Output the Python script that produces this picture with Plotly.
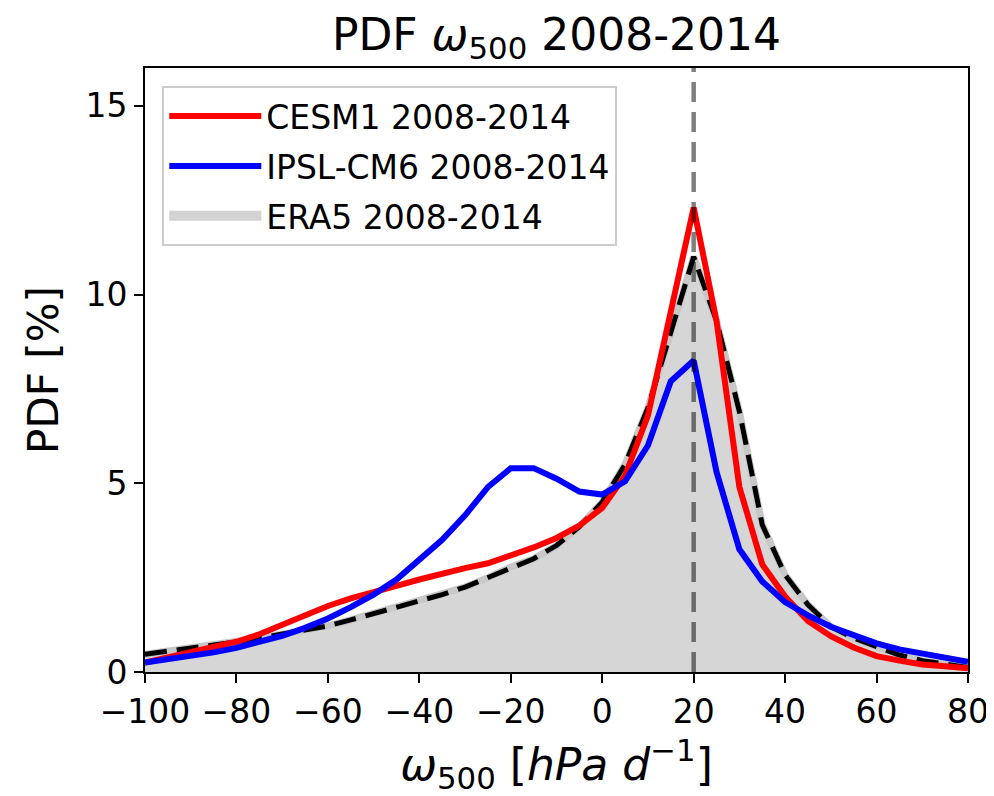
import plotly.graph_objects as go

omega = [-100, -95, -90, -85, -80, -75, -70, -65, -60, -55, -50, -45, -40, -35, -30, -25, -20, -15, -10, -5,
         0, 5, 10, 15, 20, 25, 30, 35, 40, 45, 50, 55, 60, 65, 70, 75, 80]

era5 = [0.47, 0.55, 0.62, 0.70, 0.80, 0.90, 1.00, 1.10, 1.22, 1.38, 1.55, 1.70, 1.87, 2.05, 2.25, 2.50, 2.78, 3.00, 3.35, 3.85,
        4.50, 5.50, 7.00, 9.00, 11.00, 9.30, 6.90, 3.90, 2.57, 1.78, 1.20, 0.90, 0.68, 0.45, 0.30, 0.20, 0.12]

cesm1 = [0.25, 0.38, 0.52, 0.66, 0.80, 1.00, 1.25, 1.50, 1.75, 1.95, 2.10, 2.28, 2.45, 2.62, 2.75, 2.88, 3.08, 3.30, 3.55, 3.88,
         4.35, 5.20, 6.80, 9.60, 12.30, 9.30, 4.90, 2.85, 2.00, 1.35, 0.95, 0.65, 0.42, 0.30, 0.20, 0.15, 0.10]

ipsl = [0.25, 0.33, 0.42, 0.52, 0.64, 0.78, 0.96, 1.17, 1.42, 1.72, 2.05, 2.45, 2.95, 3.50, 4.15, 4.90, 5.40, 5.40, 5.12, 4.78,
        4.70, 5.05, 6.00, 7.70, 8.25, 5.30, 3.25, 2.40, 1.85, 1.50, 1.20, 0.98, 0.76, 0.60, 0.50, 0.40, 0.27]

x_ticks = [-100, -80, -60, -40, -20, 0, 20, 40, 60, 80]
x_tick_labels = ["\u2212100", "\u221280", "\u221260", "\u221240", "\u221220", "0", "20", "40", "60", "80"]
y_ticks = [0, 5, 10, 15]
ref_omega = 20

FONT = "DejaVu Sans"
TICK = 33
LABEL = 44

fig = go.Figure()

fig.add_trace(go.Scatter(
    x=omega, y=era5, mode="lines", fill="tozeroy",
    fillcolor="#d6d6d6", line=dict(color="#c8c8c8", width=7),
    showlegend=False, hoverinfo="skip",
))
fig.add_trace(go.Scatter(
    x=omega, y=era5, mode="lines",
    line=dict(color="black", width=5, dash="22px,10px"),
    showlegend=False, hoverinfo="skip",
))
fig.add_trace(go.Scatter(
    x=omega, y=cesm1, mode="lines",
    line=dict(color="#ff0000", width=6),
    name="CESM1 2008-2014", legendrank=1, legendgroup="a",
))
fig.add_trace(go.Scatter(
    x=omega, y=ipsl, mode="lines",
    line=dict(color="#0000ff", width=6),
    name="IPSL-CM6 2008-2014", legendrank=2, legendgroup="b",
))
# legend entry for the ERA5 filled area
fig.add_trace(go.Scatter(
    x=[None], y=[None], mode="lines",
    line=dict(color="#d3d3d3", width=22),
    name="ERA5 2008-2014", legendrank=3, legendgroup="c",
))

fig.add_shape(type="line", x0=ref_omega, x1=ref_omega, y0=0, y1=1, xref="x", yref="paper",
              line=dict(color="rgba(0,0,0,0.5)", width=4.5, dash="20px,10px"), layer="above")

fig.update_layout(
    width=986, height=788,
    margin=dict(l=137, r=26, t=60, b=124, autoexpand=False),
    paper_bgcolor="white", plot_bgcolor="white",
    font=dict(family=FONT, size=TICK, color="black"),
    title=dict(text="PDF <i>\u03c9</i><sub>500</sub> 2008-2014", xref="paper", x=0.5, xanchor="center",
               y=0.966, yanchor="middle", font=dict(size=LABEL, family=FONT)),
    showlegend=True,
    legend=dict(x=0.021, y=0.97, xanchor="left", yanchor="top",
                bgcolor="rgba(255,255,255,0.8)", bordercolor="#cccccc", borderwidth=2,
                font=dict(size=TICK, family=FONT), itemwidth=92, tracegroupgap=4,
                traceorder="grouped"),
    xaxis=dict(range=[-100, 80], tickvals=x_ticks, ticktext=x_tick_labels, automargin=False,
               showgrid=False, zeroline=False, showline=True, linecolor="black", linewidth=2,
               mirror=True, ticks="outside", ticklen=9, tickwidth=2, tickcolor="black",
               tickfont=dict(size=TICK, family=FONT),
               title=dict(text="<i>\u03c9</i><sub>500</sub> [<i>hPa d</i><sup>\u22121</sup>]",
                          font=dict(size=LABEL, family=FONT), standoff=24)),
    yaxis=dict(range=[0, 16], tickvals=y_ticks, automargin=False,
               showgrid=False, zeroline=False, showline=True, linecolor="black", linewidth=2,
               mirror=True, ticks="outside", ticklen=9, tickwidth=2, tickcolor="black",
               tickfont=dict(size=TICK, family=FONT),
               title=dict(text="PDF [%]", font=dict(size=LABEL - 2, family=FONT), standoff=14)),
)

fig.write_html("out.html")
